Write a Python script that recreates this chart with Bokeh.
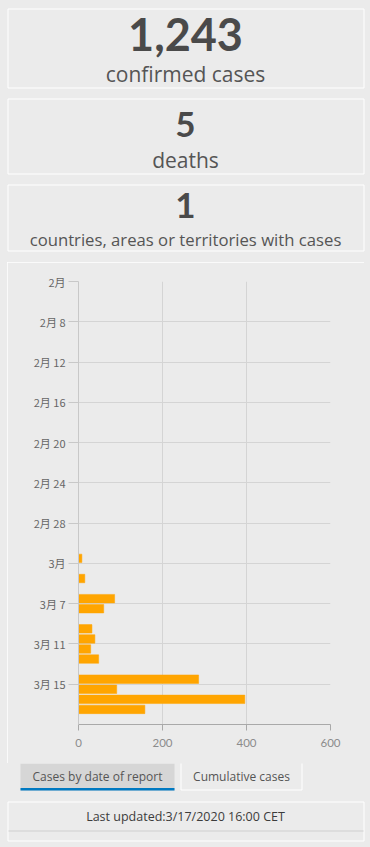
from bokeh.plotting import figure
from bokeh.layouts import column, row
from bokeh.models import ColumnDataSource, FixedTicker, Range1d, Spacer
from bokeh.core.properties import value
from bokeh.embed import file_html
from bokeh.resources import INLINE
import pandas as pd

# ---------------- data ----------------
stat_values = ["1,243", "5", "1"]
stat_labels = ["confirmed cases", "deaths", "countries, areas or territories with cases"]

first_day = "2020-02-04"
last_day = "2020-03-17"
# daily cases by date of report, 4 Feb .. 17 Mar 2020
daily_cases = [
    0, 0, 0, 0, 0, 0, 0,            # Feb 4 - Feb 10
    0, 0, 0, 0, 0, 0, 0,            # Feb 11 - Feb 17
    0, 0, 0, 0, 0, 0, 0,            # Feb 18 - Feb 24
    0, 0, 0, 0, 0,                  # Feb 25 - Feb 29
    0, 8, 0, 15, 0, 86, 60,         # Mar 1 - Mar 7
    0, 32, 39, 29, 48, 0, 286,      # Mar 8 - Mar 14
    91, 396, 158,                   # Mar 15 - Mar 17
]
tick_dates = ["2020-02-04", "2020-02-08", "2020-02-12", "2020-02-16", "2020-02-20",
              "2020-02-24", "2020-02-28", "2020-03-03", "2020-03-07", "2020-03-11",
              "2020-03-15"]
tick_labels = ["2月", "2月 8", "2月 12", "2月 16", "2月 20", "2月 24", "2月 28",
               "3月", "3月 7", "3月 11", "3月 15"]
x_ticks = [0, 200, 400, 600]
x_max = 600
tab_labels = ["Cases by date of report", "Cumulative cases"]
updated_text = "Last updated:3/17/2020 16:00 CET"

# ---------------- styling ----------------
BG = "#ebebeb"
WHITE = "#ffffff"
W = 370
NUMF = "Lato"
TXTF = "Open Sans"
CJK = "Noto Sans CJK SC"

def blank(width, height):
    f = figure(width=width, height=height, x_range=Range1d(0, width), y_range=Range1d(height, 0),
               x_axis_location=None, y_axis_location=None, min_border=0,
               output_backend="svg", toolbar_location=None, frame_align=False,
               background_fill_color=BG, border_fill_color=BG, outline_line_color=None)
    f.xgrid.visible = False
    f.ygrid.visible = False
    return f

# ---------------- top stat panels (page rows 0..261) ----------------
top = blank(W, 262)
top.quad(left=[7.5] * 3, right=[363.5] * 3, top=[8.5, 98.5, 184.5],
         bottom=[87.5, 173.5, 250.5], fill_color=None, line_color=WHITE, line_width=1)
val_src = ColumnDataSource(dict(x=[185] * 3, y=[33.6, 123.5, 204.5], t=stat_values,
                                s=["45px", "35px", "35px"]))
top.text(x="x", y="y", text="t", source=val_src, text_font=value(NUMF), text_font_size="s",
         text_font_style="bold", text_color="#4a4a4a", text_align="center",
         text_baseline="middle")
lab_src = ColumnDataSource(dict(x=[185] * 3, y=[73.9, 159.9, 238.5], t=stat_labels,
                                s=["21px", "21px", "16.7px"]))
top.text(x="x", y="y", text="t", source=lab_src, text_font=value(TXTF), text_font_size="s",
         text_color="#555555", text_align="center", text_baseline="middle")

# ---------------- chart (page rows 262..762, cols 7..363) ----------------
days = pd.date_range(first_day, last_day, freq="D")
origin = pd.Timestamp(first_day)
day_index = [(d - origin).days for d in days]
n_days = len(day_index)
src = ColumnDataSource(dict(y=[i + 0.5 for i in day_index], cases=daily_cases))
tick_pos = [(pd.Timestamp(d) - origin).days for d in tick_dates]

p = figure(width=357, height=501, x_range=Range1d(0, x_max), y_range=Range1d(n_days + 1, 0),
           output_backend="svg", toolbar_location=None, frame_align=False,
           min_border_left=71, min_border_right=34, min_border_top=19, min_border_bottom=39,
           background_fill_color=BG, border_fill_color=BG, outline_line_color=None,
           styles={"outline": "1px solid #ffffff", "outline-offset": "-1px"})
p.hbar(y="y", left=0, right="cases", height=0.84, source=src,
       fill_color="#ffa500", line_color="#ffa500", line_width=0.5)

p.xaxis.ticker = FixedTicker(ticks=x_ticks)
p.xgrid.ticker = FixedTicker(ticks=x_ticks)
p.yaxis.ticker = FixedTicker(ticks=tick_pos)
p.ygrid.ticker = FixedTicker(ticks=tick_pos)
p.yaxis.major_label_overrides = {t: l for t, l in zip(tick_pos, tick_labels)}
p.grid.grid_line_color = "#d4d4d4"
p.grid.grid_line_width = 1

p.xaxis.axis_line_color = "#a9a9a9"
p.xaxis.major_tick_line_color = "#a9a9a9"
p.xaxis.major_tick_out = 6
p.xaxis.major_tick_in = 0
p.xaxis.minor_tick_line_color = None
p.xaxis.major_label_standoff = 8
p.xaxis.major_label_text_font = NUMF
p.xaxis.major_label_text_font_size = "11.5px"
p.xaxis.major_label_text_color = "#8c8c8c"

p.yaxis.axis_line_color = "#c8c8c8"
p.yaxis.major_tick_line_color = "#c8c8c8"
p.yaxis.major_tick_out = 10
p.yaxis.major_tick_in = 0
p.yaxis.minor_tick_line_color = None
p.yaxis.major_label_standoff = 3
p.yaxis.major_label_text_font = CJK
p.yaxis.major_label_text_font_size = "11px"
p.yaxis.major_label_text_color = "#666666"

chart_row = row(Spacer(width=7, height=501), p, Spacer(width=6, height=501))

# ---------------- bottom tabs + update note (page rows 763..846) ----------------
bot = blank(W, 84)
bot.quad(left=[20], right=[174], top=[0], bottom=[27], fill_color="#d6d6d6", line_color=None)
bot.quad(left=[20], right=[174], top=[24.5], bottom=[27], fill_color="#0079c1", line_color=None)
bot.quad(left=[180.5], right=[301.5], top=[-2], bottom=[26.5], fill_color=None,
         line_color=WHITE, line_width=1)
tab_src = ColumnDataSource(dict(x=[97, 241], y=[13, 13], t=tab_labels))
bot.text(x="x", y="y", text="t", source=tab_src, text_font=value(TXTF),
         text_font_size=value("12px"), text_color="#555555", text_align="center",
         text_baseline="middle")
bot.quad(left=[7.5], right=[363.5], top=[38.5], bottom=[77.5], fill_color=None,
         line_color=WHITE, line_width=1)
bot.segment(x0=[8], x1=[363], y0=[67.5], y1=[67.5], line_color="#cfcfcf", line_width=1)
bot.text(x=[185], y=[53], text=[updated_text], text_font=value(TXTF),
         text_font_size=value("12.5px"), text_color="#3c3c3c", text_align="center",
         text_baseline="middle")

layout = column(top, chart_row, bot)
html = file_html(layout, INLINE, title="COVID-19 dashboard")
html = html.replace("</head>", "<style>html, body { background: #ebebeb; }</style></head>", 1)
open("out.html", "w").write(html)
